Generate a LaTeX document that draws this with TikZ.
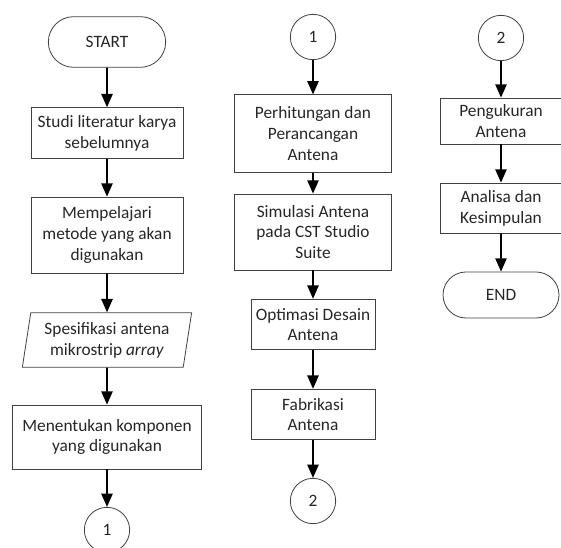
\documentclass[tikz,border=0pt]{standalone}
\usepackage{fontspec}
\setmainfont{Carlito}
\usetikzlibrary{arrows.meta, shapes.geometric, shapes.misc}

\begin{document}
\begin{tikzpicture}[
        x=0.75pt, y=-0.75pt,
        font=\fontsize{13}{15.6}\selectfont,
        act/.style={draw=black!75, text=black!85, line width=0.6pt, inner sep=2pt, align=center},
        term/.style={act, rounded rectangle},
        io/.style={act, trapezium, trapezium left angle=80, trapezium right angle=100, trapezium stretches=true},
        conn/.style={act, circle, minimum size=34pt},
        arr/.style={->, line width=1.2pt},
        >={Triangle[length=10pt, width=8.5pt]}
      ]
        \useasboundingbox (0,0) rectangle (561,548);
        % column positions
        \def\cA{107} \def\cB{313} \def\cC{501}

        % ---- Column 1 ----
        \node[term, minimum width=92pt, minimum height=38pt] (start) at (\cA,42) {START};
        \node[act, minimum width=114pt, minimum height=38pt] (n1) at (\cA,133) {Studi literatur karya\\sebelumnya};
        \node[act, minimum width=114pt, minimum height=57pt] (n2) at (\cA,235) {Mempelajari\\metode yang akan\\digunakan};
        \node[io, minimum width=127pt, minimum height=41pt] (n3) at (\cA,340) {Spesifikasi antena\\mikrostrip \textit{array}};
        \node[act, minimum width=142pt, minimum height=48pt] (n4) at (\cA,437) {Menentukan komponen\\yang digunakan};
        \node[conn] (c1a) at (\cA,530) {1};

        \draw[arr] (start) -- (n1);
        \draw[arr] (n1) -- (n2);
        \draw[arr] (n2) -- (n3);
        \draw[arr] (n3) -- (n4);
        \draw[arr] (n4) -- (c1a);

        % ---- Column 2 ----
        \node[conn] (c1b) at (\cB,37) {1};
        \node[act, minimum width=118pt, minimum height=58pt] (n5) at (\cB,133.5) {Perhitungan dan\\Perancangan\\Antena};
        \node[act, minimum width=118pt, minimum height=57pt] (n6) at (\cB,232) {Simulasi Antena\\pada CST Studio\\Suite};
        \node[act, minimum width=93pt, minimum height=38pt] (n7) at (\cB,324.5) {Optimasi Desain\\Antena};
        \node[act, minimum width=93pt, minimum height=38pt] (n8) at (\cB,414.5) {Fabrikasi\\Antena};
        \node[conn] (c2a) at (\cB,501) {2};

        \draw[arr] (c1b) -- (n5);
        \draw[arr] (n5) -- (n6);
        \draw[arr] (n6) -- (n7);
        \draw[arr] (n7) -- (n8);
        \draw[arr] (n8) -- (c2a);

        % ---- Column 3 ----
        \node[conn] (c2b) at (\cC,38) {2};
        \node[act, minimum width=91pt, minimum height=34.5pt] (n9) at (\cC,121) {Pengukuran\\Antena};
        \node[act, minimum width=91pt, minimum height=37.5pt] (n10) at (\cC,208) {Analisa dan\\Kesimpulan};
        \node[term, minimum width=91pt, minimum height=34.5pt] (end) at (\cC,295) {END};

        \draw[arr] (c2b) -- (n9);
        \draw[arr] (n9) -- (n10);
        \draw[arr] (n10) -- (end);
    \end{tikzpicture}
\end{document}
